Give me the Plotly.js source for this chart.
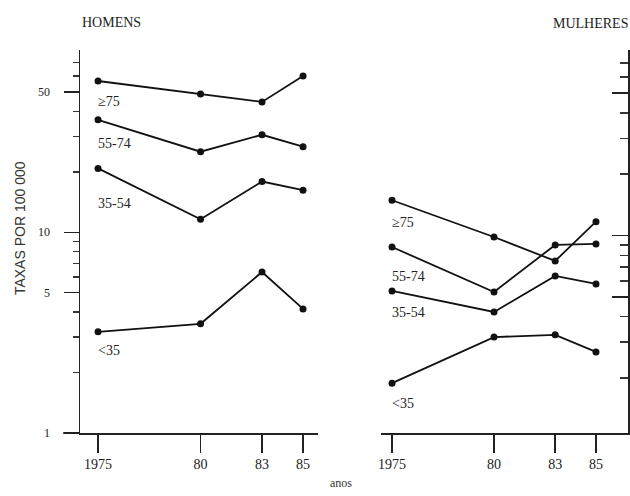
<!DOCTYPE html>
<html>
<head>
<meta charset="utf-8">
<script src="https://cdn.plot.ly/plotly-3.0.1.min.js"></script>
<style>html,body{margin:0;padding:0;background:#fff;}#chart{width:630px;height:496px;}</style>
</head>
<body>
<div id="chart"></div>
<script>
// ---- data ----
const years = [1975, 1980, 1983, 1985];
const yearLabels = ['1975', '80', '83', '85'];
const groups = ['≥75', '55-74', '35-54', '<35'];

const homens_ge75  = [56.7, 48.9, 44.6, 60.0];
const homens_55_74 = [36.3, 25.2, 30.6, 26.7];
const homens_35_54 = [20.8, 11.6, 17.9, 16.2];
const homens_lt35  = [3.19, 3.50, 6.34, 4.15];

const mulheres_ge75  = [14.9, 9.84, 7.51, 11.7];
const mulheres_55_74 = [8.79, 5.29, 9.0, 9.1];
const mulheres_35_54 = [5.35, 4.22, 6.34, 5.79];
const mulheres_lt35  = [1.89, 3.18, 3.26, 2.69];

const majorTicks = [1, 5, 10, 50];
const majorTickText = ['1', '5', '10', '50'];
const minorTicks = [2, 3, 4, 6, 7, 8, 9, 20, 30, 40, 60, 70];

// ---- build ----
const homens = [homens_ge75, homens_55_74, homens_35_54, homens_lt35];
const mulheres = [mulheres_ge75, mulheres_55_74, mulheres_35_54, mulheres_lt35];

const traces = [];
function addTrace(vals, xa, ya) {
  traces.push({
    x: years, y: vals, xaxis: xa, yaxis: ya,
    type: 'scatter', mode: 'lines+markers',
    line: {color: '#111', width: 1.8},
    marker: {color: '#111', size: 7},
    hoverinfo: 'skip', showlegend: false
  });
}
homens.forEach(v => addTrace(v, 'x', 'y'));
mulheres.forEach(v => addTrace(v, 'x2', 'y2'));

const serif = 'Liberation Serif, Times New Roman, serif';
const labelShiftsH = [-20, -24, -35, -19];
const labelShiftsM = [-22, -29, -22, -20];

const annotations = [];
groups.forEach((g, i) => {
  annotations.push({xref: 'x', yref: 'y', x: years[0], y: Math.log10(homens[i][0]),
    text: g, showarrow: false, xanchor: 'left', yanchor: 'middle', xshift: -2,
    yshift: labelShiftsH[i], font: {family: serif, size: 14, color: '#222'}});
  annotations.push({xref: 'x2', yref: 'y2', x: years[0], y: Math.log10(mulheres[i][0]),
    text: g, showarrow: false, xanchor: 'left', yanchor: 'middle', xshift: -2,
    yshift: labelShiftsM[i], font: {family: serif, size: 14, color: '#222'}});
});
annotations.push({xref: 'paper', yref: 'paper', x: 0, y: 1.073, text: 'HOMENS',
  showarrow: false, xanchor: 'left', yanchor: 'middle', font: {family: serif, size: 14, color: '#222'}});
annotations.push({xref: 'paper', yref: 'paper', x: 1.0036, y: 1.07, text: 'MULHERES',
  showarrow: false, xanchor: 'right', yanchor: 'middle', font: {family: serif, size: 14, color: '#222'}});
annotations.push({xref: 'paper', yref: 'paper', x: -0.1095, y: 0.535, text: 'TAXAS POR 100 000',
  textangle: -90, showarrow: false, xanchor: 'center', yanchor: 'middle',
  font: {family: 'Liberation Sans, Arial, sans-serif', size: 14, color: '#333'}});
annotations.push({xref: 'paper', yref: 'paper', x: 0.476, y: -0.1305, text: 'anos',
  showarrow: false, xanchor: 'center', yanchor: 'middle', font: {family: serif, size: 12, color: '#333'}});

const xCommon = {
  tickmode: 'array', tickvals: years, ticktext: yearLabels,
  showline: true, linecolor: '#222', linewidth: 1.5,
  ticks: 'outside', ticklen: 18, tickwidth: 1.5, tickcolor: '#222',
  showgrid: false, zeroline: false,
  tickfont: {family: serif, size: 14, color: '#222'}, fixedrange: true
};

const layout = {
  width: 630, height: 496,
  margin: {l: 80, r: 2, t: 50, b: 63},
  paper_bgcolor: '#fff', plot_bgcolor: '#fff',
  showlegend: false,
  xaxis: Object.assign({}, xCommon, {domain: [0, 0.4343], range: [1974.12, 1985.73], anchor: 'y'}),
  xaxis2: Object.assign({}, xCommon, {domain: [0.5493, 1], range: [1974.46, 1986.57], anchor: 'y2'}),
  yaxis: {
    type: 'log', range: [0, 1.908], domain: [0, 1], anchor: 'x',
    tickmode: 'array', tickvals: majorTicks, ticktext: majorTickText,
    showline: true, linecolor: '#222', linewidth: 1.5,
    ticks: 'outside', ticklen: 15, tickwidth: 1.2, tickcolor: '#222',
    minor: {tickmode: 'array', tickvals: minorTicks, ticks: 'outside', ticklen: 6, tickwidth: 1.5, tickcolor: '#333', showgrid: false},
    ticklabelstandoff: 11,
    showgrid: false, zeroline: false,
    tickfont: {family: serif, size: 12, color: '#222'}, fixedrange: true
  },
  yaxis2: {
    type: 'log', range: [0.032, 1.91], domain: [0, 1], anchor: 'x2', side: 'right',
    tickmode: 'array', tickvals: [5, 10, 50],
    showticklabels: false,
    showline: true, linecolor: '#222', linewidth: 1.5,
    ticks: 'inside', ticklen: 16, tickwidth: 1.2, tickcolor: '#222',
    minor: {tickmode: 'array', tickvals: minorTicks, ticks: 'inside', ticklen: 8, tickwidth: 1.5, tickcolor: '#333', showgrid: false},
    showgrid: false, zeroline: false, fixedrange: true
  },
  shapes: [
    {type: 'line', xref: 'paper', yref: 'paper', x0: -0.031, x1: 0, y0: 0, y1: 0,
     line: {color: '#222', width: 1.5}}
  ],
  annotations: annotations
};

Plotly.newPlot('chart', traces, layout, {staticPlot: true, displayModeBar: false});
</script>
</body>
</html>
